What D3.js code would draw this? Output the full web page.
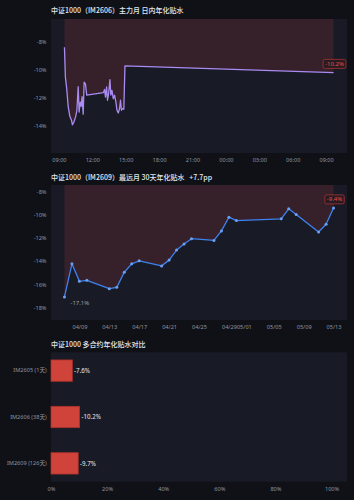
<!DOCTYPE html>
<html>
<head>
<meta charset="utf-8">
<script src="https://cdn.jsdelivr.net/npm/d3@7"></script>
<style>
  body { margin: 0; background: #0f1117; }
  svg { display: block; font-family: "Noto Sans CJK SC", "Noto Sans", sans-serif; }
</style>
</head>
<body>
<svg></svg>
<script>
const width = 354;
const height = 500;
const plotLeft = 51;
const plotRight = 347;

/* intraday IM2606 */
const intraTimes = [
  '2026-05-13 09:30', '2026-05-13 09:35', '2026-05-13 09:43', '2026-05-13 09:50',
  '2026-05-13 09:59', '2026-05-13 10:08', '2026-05-13 10:13', '2026-05-13 10:21',
  '2026-05-13 10:30', '2026-05-13 10:37', '2026-05-13 10:44', '2026-05-13 10:49',
  '2026-05-13 10:55', '2026-05-13 11:00', '2026-05-13 11:05', '2026-05-13 11:11',
  '2026-05-13 11:16', '2026-05-13 11:23', '2026-05-13 11:30', '2026-05-13 13:00',
  '2026-05-13 13:06', '2026-05-13 13:11', '2026-05-13 13:17', '2026-05-13 13:22',
  '2026-05-13 13:28', '2026-05-13 13:35', '2026-05-13 13:40', '2026-05-13 13:46',
  '2026-05-13 13:53', '2026-05-13 14:00', '2026-05-13 14:07', '2026-05-13 14:13',
  '2026-05-13 14:20', '2026-05-13 14:27', '2026-05-13 14:32', '2026-05-13 14:37',
  '2026-05-13 14:43', '2026-05-13 14:50', '2026-05-13 14:56', '2026-05-14 09:40'
];
const intraValues = [
  -8.4, -10.5, -11.46, -12.6,
  -13.3, -13.58, -13.9, -13.7,
  -13.34, -12.87, -11.2, -13.0,
  -12.3, -12.6, -11.9, -13.15,
  -10.87, -11.0, -11.8, -11.62,
  -11.4, -11.93, -11.22, -12.16,
  -11.7, -10.7, -11.8, -11.46,
  -12.05, -11.8, -12.28, -12.87,
  -13.06, -12.75, -12.16, -12.87,
  -12.75, -12.8, -9.72, -10.2
];

/* IM2609 daily, 30 days */
const farDates = [
  '2026-04-07', '2026-04-08', '2026-04-09', '2026-04-10', '2026-04-13', '2026-04-14',
  '2026-04-15', '2026-04-16', '2026-04-17', '2026-04-20', '2026-04-21', '2026-04-22',
  '2026-04-23', '2026-04-24', '2026-04-27', '2026-04-28', '2026-04-29', '2026-04-30',
  '2026-05-06', '2026-05-07', '2026-05-08', '2026-05-11', '2026-05-12', '2026-05-13'
];
const farValues = [
  -17.1, -14.23, -15.75, -15.66, -16.39, -16.27,
  -14.96, -14.23, -13.97, -14.41, -13.91, -13.04,
  -12.52, -12.05, -12.2, -11.38, -10.19, -10.48,
  -10.33, -9.46, -9.96, -11.47, -10.8, -9.4
];

/* contract comparison */
const contracts = ['IM2605 (1天)', 'IM2606 (38天)', 'IM2609 (126天)'];
const contractValues = [-7.6, -10.2, -9.7];

const svg = d3.select('svg')
  .attr('width', width)
  .attr('height', height);

const parseTime = d3.timeParse('%Y-%m-%d %H:%M');
const parseDay = d3.timeParse('%Y-%m-%d');
const pct = d => `${d}%`;

function addTitle(text, y) {
  svg.append('text')
    .attr('x', plotLeft)
    .attr('y', y)
    .attr('fill', '#e4e6ec')
    .style('font-size', '7px')
    .style('font-weight', 500)
    .style('white-space', 'pre')
    .text(text);
}

function styleAxis(g) {
  g.select('.domain').remove();
  g.selectAll('text')
    .attr('fill', '#8f95a2')
    .style('font-size', '5.6px')
    .style('font-family', '"Noto Sans", "Noto Sans CJK SC", sans-serif');
}

/* shared line chart */
function lineChart(opts) {
  const { top, bottom, times, values, color, dots, tickEvery, tickFmt, minLabel } = opts;
  const data = times.map((t, i) => ({ t: t, v: values[i] }));

  svg.append('rect')
    .attr('x', plotLeft).attr('y', top)
    .attr('width', plotRight - plotLeft).attr('height', bottom - top)
    .attr('fill', '#181b26');

  const tExt = d3.extent(data, d => d.t);
  const pad = (tExt[1] - tExt[0]) * 0.05;
  const x = d3.scaleTime()
    .domain([new Date(+tExt[0] - pad), new Date(+tExt[1] + pad)])
    .range([plotLeft, plotRight]);

  const vExt = d3.extent(data, d => d.v);
  const y = d3.scaleLinear()
    .domain([vExt[0] - 2, vExt[1] + 2])
    .range([bottom, top]);

  svg.append('path')
    .datum(data)
    .attr('fill', '#36202a')
    .attr('d', d3.area().x(d => x(d.t)).y0(top).y1(d => y(d.v)));

  svg.append('path')
    .datum(data)
    .attr('fill', 'none')
    .attr('stroke', color)
    .attr('stroke-width', 1.3)
    .attr('stroke-linejoin', 'round')
    .attr('d', d3.line().x(d => x(d.t)).y(d => y(d.v)));

  if (dots) {
    svg.selectAll(null)
      .data(data)
      .enter()
      .append('circle')
        .attr('cx', d => x(d.t))
        .attr('cy', d => y(d.v))
        .attr('r', 1.5)
        .attr('fill', '#6b9ff2');
  }

  styleAxis(svg.append('g')
    .attr('transform', `translate(0, ${bottom})`)
    .call(d3.axisBottom(x).ticks(tickEvery).tickFormat(tickFmt).tickSize(0).tickPadding(5)));
  styleAxis(svg.append('g')
    .attr('transform', `translate(${plotLeft}, 0)`)
    .call(d3.axisLeft(y).ticks(5).tickFormat(pct).tickSize(0).tickPadding(4.5)));

  /* min annotation */
  if (minLabel) {
    const lo = data.reduce((a, b) => (b.v < a.v ? b : a));
    svg.append('text')
      .attr('x', x(lo.t) + 6)
      .attr('y', y(lo.v) + 8)
      .attr('fill', '#9aa0ac')
      .style('font-size', '6px')
      .style('font-family', '"Noto Sans", sans-serif')
      .text(`${lo.v.toFixed(1)}%`);
  }

  /* last value tag */
  const last = data[data.length - 1];
  const tag = svg.append('g');
  const txt = tag.append('text')
    .attr('fill', '#e0504c')
    .attr('text-anchor', 'middle')
    .style('font-size', '6px')
    .style('font-family', '"Noto Sans", sans-serif')
    .text(`${last.v.toFixed(1)}%`);
  const w = txt.node().getComputedTextLength() + 4;
  let cx = x(last.t) + 1;
  if (cx + w / 2 > plotRight) cx = plotRight - w / 2;
  const by = y(last.v) - 4.2;
  tag.insert('rect', 'text')
    .attr('x', cx - w / 2).attr('y', by - 9)
    .attr('width', w).attr('height', 9)
    .attr('rx', 1.5)
    .attr('fill', '#2a1b22')
    .attr('stroke', '#a83232')
    .attr('stroke-width', 0.8);
  txt.attr('x', cx).attr('y', by - 2.5);
}

addTitle('中证1000（IM2606）主力月 日内年化贴水', 13.3);
lineChart({
  top: 19, bottom: 153,
  times: intraTimes.map(parseTime),
  values: intraValues,
  color: '#a98bf2', dots: false,
  tickEvery: d3.timeHour.every(3), tickFmt: d3.timeFormat('%H:%M'),
  minLabel: false
});

addTitle('中证1000（IM2609）最远月 30天年化贴水   +7.7pp', 179.8);
lineChart({
  top: 185, bottom: 320,
  times: farDates.map(parseDay),
  values: farValues,
  color: '#3d82ef', dots: true,
  tickEvery: d3.timeDay.every(4), tickFmt: d3.timeFormat('%m/%d'),
  minLabel: true
});

/* bar comparison */
const barTop = 352.3;
const barBottom = 481.7;

addTitle('中证1000 多合约年化贴水对比', 347);

svg.append('rect')
  .attr('x', plotLeft).attr('y', barTop)
  .attr('width', plotRight - plotLeft).attr('height', barBottom - barTop)
  .attr('fill', '#181b26');

const xBar = d3.scaleLinear()
  .domain([0, 105.5])
  .range([plotLeft, plotRight]);

const yBar = d3.scaleBand()
  .domain(contracts)
  .range([barTop, barBottom])
  .paddingInner(0.54)
  .paddingOuter(0.165);

svg.selectAll(null)
  .data(contracts)
  .enter()
  .append('rect')
    .attr('x', xBar(0))
    .attr('y', d => yBar(d))
    .attr('width', (d, i) => xBar(Math.abs(contractValues[i])) - xBar(0))
    .attr('height', yBar.bandwidth())
    .attr('fill', '#cf433a')
    .attr('stroke', '#a8322b')
    .attr('stroke-width', 0.8);

svg.selectAll(null)
  .data(contracts)
  .enter()
  .append('text')
    .attr('x', (d, i) => xBar(Math.abs(contractValues[i])) + 1.8)
    .attr('y', d => yBar(d) + yBar.bandwidth() / 2 + 2.2)
    .attr('fill', '#e8e8ec')
    .style('font-size', '6.2px')
    .style('font-family', '"Noto Sans", sans-serif')
    .text((d, i) => `${contractValues[i]}%`);

styleAxis(svg.append('g')
  .attr('transform', `translate(0, ${barBottom})`)
  .call(d3.axisBottom(xBar).ticks(6).tickFormat(pct).tickSize(0).tickPadding(5)));
styleAxis(svg.append('g')
  .attr('transform', `translate(${plotLeft}, 0)`)
  .call(d3.axisLeft(yBar).tickSize(0).tickPadding(4.3)));
</script>
</body>
</html>
